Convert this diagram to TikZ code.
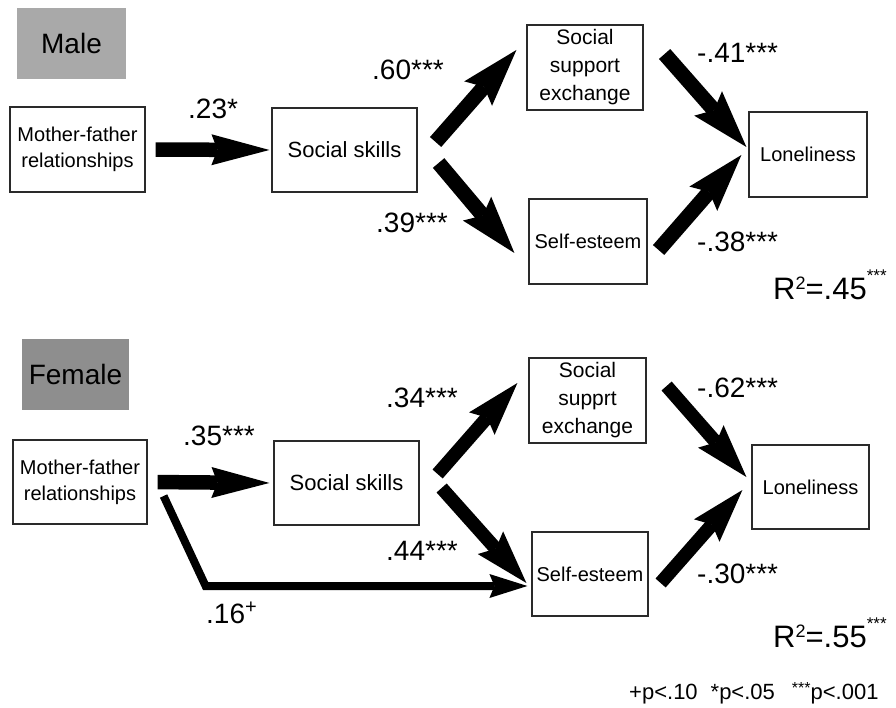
\documentclass[tikz,border=0pt]{standalone}
\usepackage{fontspec}
\setmainfont{Liberation Sans}
\usetikzlibrary{arrows.meta,calc}
\definecolor{maleg}{HTML}{A9A9A9}
\definecolor{femaleg}{HTML}{8E8E8E}
\definecolor{edge}{HTML}{2A2A2A}
\begin{document}
\begin{tikzpicture}[x=1pt,y=-1pt,
  box/.style={draw=edge, line width=1.2pt, fill=white, inner sep=0pt, align=center},
  grp/.style={fill=#1, inner sep=0pt, font=\fontsize{28}{28}\selectfont},
  coef/.style={inner sep=0pt, anchor=base west, font=\fontsize{28}{28}\selectfont},
  rsq/.style={inner sep=0pt, anchor=base west, font=\fontsize{31}{31}\selectfont},
  flat/.style={line width=14.5pt, -{Stealth[length=58pt,width=31pt,inset=6pt,line width=0pt]}},
  fat/.style={line width=15pt, -{Stealth[length=58pt,width=37pt,inset=9pt,line width=0pt]}},
  fatf/.style={line width=13.5pt, -{Stealth[length=54pt,width=34pt,inset=8pt,line width=0pt]}},
  thin/.style={line width=8pt, line join=miter, -{Stealth[length=38pt,width=24pt,inset=5pt,line width=0pt]}}
]
\useasboundingbox[fill=white] (0,0) rectangle (896,708);

% ---------------- Male ----------------
\node[grp=maleg, minimum width=109pt, minimum height=71pt] (male) at (71.5,43.5) {Male};
\node[box, minimum width=135pt, minimum height=85pt, font=\fontsize{20}{26}\selectfont] (mfM) at (77.5,149.5) {Mother-father\\relationships};
\node[box, minimum width=145pt, minimum height=84pt, font=\fontsize{22}{26}\selectfont] (ssM) at (344.5,150) {Social skills};
\node[box, minimum width=116pt, minimum height=85pt, font=\fontsize{21}{28}\selectfont] (sseM) at (585,67.5) {Social\\support\\exchange};
\node[box, minimum width=118pt, minimum height=85pt, font=\fontsize{20}{24}\selectfont] (seM) at (588,241.5) {Self-esteem};
\node[box, minimum width=118pt, minimum height=85pt, font=\fontsize{20}{24}\selectfont] (lonM) at (808,154.5) {Loneliness};

\draw[flat, shorten <=10pt, shorten >=2pt] (mfM.east) -- (ssM.west);
\draw[fat] ($(ssM.east)+(18,-8)$) -- ($(sseM.west)+(-10,-17.5)$);
\draw[fat] ($(ssM.east)+(21,13)$) -- ($(seM.west)+(-14,11.5)$);
\draw[fat] ($(sseM.east)+(21,-13.5)$) -- ($(lonM.west)+(-2,-7.5)$);
\draw[fat] ($(seM.east)+(11,8.5)$) -- ($(lonM.west)+(-7,0.5)$);

\node[coef] (cM1) at (188,119) {.23*};
\node[coef] (cM2) at (372,80) {.60***};
\node[coef] (cM3) at (376,233) {.39***};
\node[coef] (cM4) at (697,63) {-.41***};
\node[coef] (cM5) at (697,252) {-.38***};
\node[rsq] (rM) at (773,300) {R\raisebox{10pt}{\fontsize{18}{18}\selectfont 2}=.45\raisebox{18pt}{\fontsize{17}{17}\selectfont ***}};

% ---------------- Female ----------------
\node[grp=femaleg, minimum width=107pt, minimum height=71pt] (female) at (75.5,374.5) {Female};
\node[box, minimum width=134pt, minimum height=84pt, font=\fontsize{20}{26}\selectfont] (mfF) at (80,482) {Mother-father\\relationships};
\node[box, minimum width=145pt, minimum height=84pt, font=\fontsize{22}{26}\selectfont] (ssF) at (346.5,483) {Social skills};
\node[box, minimum width=117pt, minimum height=85pt, font=\fontsize{21}{28}\selectfont] (sseF) at (587.5,400.5) {Social\\supprt\\exchange};
\node[box, minimum width=116pt, minimum height=84pt, font=\fontsize{20}{24}\selectfont] (seF) at (590,574) {Self-esteem};
\node[box, minimum width=117pt, minimum height=84pt, font=\fontsize{20}{24}\selectfont] (lonF) at (810.5,487) {Loneliness};

\draw[flat, shorten <=10pt, shorten >=4pt] (mfF.east) -- (ssF.west);
\draw[fatf] ($(ssF.east)+(18,-9)$) -- ($(sseF.west)+(-11,-17.5)$);
\draw[fatf] ($(ssF.east)+(22,5)$) -- ($(seF.west)+(-5,9)$);
\draw[thin] ($(mfF.east)+(16,14)$) -- ($(mfF.east)+(58,104)$) -- ($(seF.west)+(-4,12)$);
\draw[fatf] ($(sseF.east)+(20,-14.5)$) -- ($(lonF.west)+(-5,-10)$);
\draw[fatf] ($(seF.east)+(12,9)$) -- ($(lonF.west)+(-9,3)$);

\node[coef] (cF1) at (183,445) {.35***};
\node[coef] (cF2) at (386,407) {.34***};
\node[coef] (cF3) at (386,560) {.44***};
\node[coef] (cF4) at (206,623) {.16\raisebox{10pt}{\fontsize{20}{20}\selectfont +}};
\node[coef] (cF5) at (697,397) {-.62***};
\node[coef] (cF6) at (697,583) {-.30***};
\node[rsq] (rF) at (773,647) {R\raisebox{10pt}{\fontsize{18}{18}\selectfont 2}=.55\raisebox{18pt}{\fontsize{17}{17}\selectfont ***}};

\node[inner sep=0pt, anchor=base west, font=\fontsize{22}{22}\selectfont] (note) at (629,699)
  {+p<.10\hspace{13pt}*p<.05\hspace{17pt}\raisebox{6pt}{\fontsize{16}{16}\selectfont ***}p<.001};
\end{tikzpicture}
\end{document}
